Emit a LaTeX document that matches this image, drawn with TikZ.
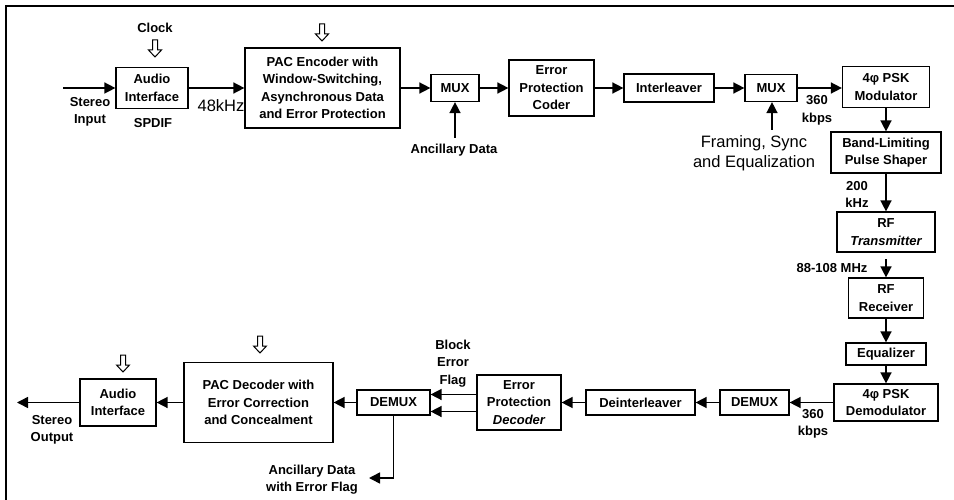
\documentclass[tikz,border=0pt]{standalone}
\usepackage{fontspec}
\setmainfont{Liberation Sans}
\usetikzlibrary{arrows.meta}
\begin{document}
\begin{tikzpicture}[x=1pt,y=-1pt,
  box/.style={draw, line width=1.2pt, align=center, inner sep=0pt,
    font=\bfseries\fontsize{13}{17.5}\selectfont},
  lbl/.style={align=center, inner sep=0pt, font=\bfseries\fontsize{13}{17.5}\selectfont},
  biglbl/.style={align=center, inner sep=0pt, font=\fontsize{16.5}{20}\selectfont},
  conn/.style={line width=1.5pt, -{Triangle[length=11pt,width=11pt]}},
  hollowdown/.pic={\draw[line width=1pt, fill=white] (-2.5,0) -- (2.5,0) -- (2.5,10) -- (6.5,10) -- (0,17) -- (-6.5,10) -- (-2.5,10) -- cycle;}
]
\useasboundingbox (0,0) rectangle (954,500);
% frame
\draw[line width=1.3pt] (6,500) -- (6,6) -- (954,6);

% top row
\node[box, minimum width=72pt, minimum height=41pt] (ai1) at (152,88) {Audio\\Interface};
\node[box, minimum width=155pt, minimum height=80pt] (pacenc) at (322.5,88) {PAC Encoder with\\Window-Switching,\\Asynchronous Data\\and Error Protection};
\node[box, minimum width=48pt, minimum height=27pt] (mux1) at (455,88) {MUX};
\node[box, minimum width=85pt, minimum height=56pt] (epc) at (551.5,88) {Error\\Protection\\Coder};
\node[box, minimum width=90pt, minimum height=28pt] (il) at (669,88) {Interleaver};
\node[box, minimum width=52pt, minimum height=27pt] (mux2) at (771,88) {MUX};
\node[box, minimum width=87pt, minimum height=41pt] (mod) at (886,87) {4φ PSK\\Modulator};

% right column
\node[box, minimum width=110pt, minimum height=41pt] (bl) at (886,152.5) {Band-Limiting\\Pulse Shaper};
\node[box, minimum width=98pt, minimum height=40pt] (tx) at (886,232) {RF\\\itshape Transmitter};
\node[box, minimum width=75pt, minimum height=40pt] (rx) at (886,298) {RF\\Receiver};
\node[box, minimum width=80pt, minimum height=22pt] (eq) at (886,354) {Equalizer};
\node[box, minimum width=104pt, minimum height=37pt] (dem) at (886,402.5) {4φ PSK\\Demodulator};

% bottom row
\node[box, minimum width=69pt, minimum height=25pt] (dmx1) at (754.5,402.5) {DEMUX};
\node[box, minimum width=109pt, minimum height=25pt] (dil) at (640.5,402.5) {Deinterleaver};
\node[box, minimum width=84pt, minimum height=55pt] (epd) at (519,402.5) {Error\\Protection\\\itshape Decoder};
\node[box, minimum width=73pt, minimum height=25pt] (dmx2) at (393.5,402.5) {DEMUX};
\node[box, minimum width=149pt, minimum height=80pt] (pacdec) at (258.5,402.5) {PAC Decoder with\\Error Correction\\and Concealment};
\node[box, minimum width=76pt, minimum height=47pt] (ai2) at (118,402.5) {Audio\\Interface};

% labels
\node[lbl] (stin) at (90,112) {Stereo\\Input};
\node[lbl] (spdif) at (153,123) {SPDIF};
\node[lbl] (clock) at (155,28) {Clock};
\node[biglbl] (khz48) at (221,106) {48kHz};
\node[lbl] (anc1) at (454,150) {Ancillary Data};
\node[biglbl] (framing) at (754,153) {Framing, Sync\\and Equalization};
\node[lbl] (kbps1) at (817,110.5) {360\\kbps};
\node[lbl] (khz200) at (857,194.5) {200\\kHz};
\node[lbl] (mhz) at (832,268) {88-108 MHz};
\node[lbl] (kbps2) at (813,424) {360\\kbps};
\node[lbl] (bef) at (453,363.5) {Block\\Error\\Flag};
\node[lbl] (anc2) at (312,479.5) {Ancillary Data\\with Error Flag};
\node[lbl] (stout) at (52,430) {Stereo\\Output};

% hollow arrows
\pic at (155,40) {hollowdown};
\pic at (322,24) {hollowdown};
\pic at (260,336) {hollowdown};
\pic at (123,355) {hollowdown};

% coordinates
\coordinate (inS) at (63,88);
\coordinate (ancA) at (455,138);
\coordinate (frA) at (772,130);
\coordinate (air) at (886,259);
\coordinate (outS) at (17,402.5);
\coordinate (ancB) at (369,478);
\coordinate (e1) at ([yshift=8pt]epd.west);
\coordinate (e2) at ([yshift=-9pt]epd.west);

% connectors top
\draw[conn] (inS) -- (ai1.west);
\draw[conn] (ai1.east) -- (pacenc.west);
\draw[conn] (pacenc.east) -- (mux1.west);
\draw[conn] (ancA) -- (mux1.south);
\draw[conn] (mux1.east) -- (epc.west);
\draw[conn] (epc.east) -- (il.west);
\draw[conn] (il.east) -- (mux2.west);
\draw[conn] (frA) -- (frA |- mux2.south);
\draw[conn] (mux2.east) -- (mux2.east -| mod.west);
% right column
\draw[conn] (mod.south) -- (bl.north);
\draw[conn] (bl.south) -- (tx.north);
\draw[conn] (air) -- (rx.north);
\draw[conn] (rx.south) -- (eq.north);
\draw[conn] (eq.south) -- (dem.north);
% bottom row
\draw[conn] (dem.west) -- (dmx1.east);
\draw[conn] (dmx1.west) -- (dil.east);
\draw[conn] (dil.west) -- (epd.east);
\draw[conn] (e1) -- (e1 -| dmx2.east);
\draw[conn] (e2) -- (e2 -| dmx2.east);
\draw[conn] (dmx2.west) -- (pacdec.east);
\draw[conn] (dmx2.south) |- (ancB);
\draw[conn] (pacdec.west) -- (ai2.east);
\draw[conn] (ai2.west) -- (outS);
\end{tikzpicture}
\end{document}
